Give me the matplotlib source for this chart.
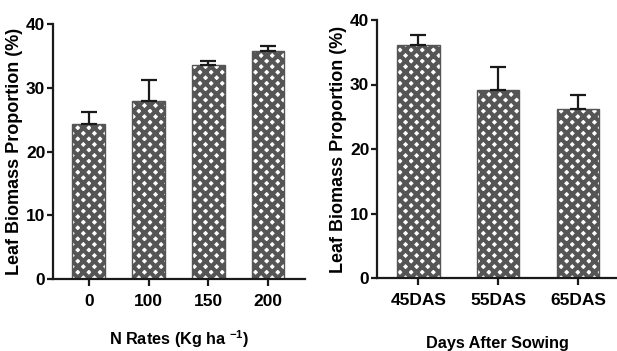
import matplotlib.pyplot as plt
import numpy as np

plt.rcParams['font.family'] = ['Liberation Sans', 'DejaVu Sans']
plt.rcParams['font.weight'] = 'bold'
plt.rcParams['mathtext.fontset'] = 'custom'
plt.rcParams['mathtext.rm'] = 'Liberation Sans:bold'
plt.rcParams['mathtext.bf'] = 'Liberation Sans:bold'
plt.rcParams['mathtext.default'] = 'bf'
plt.rcParams['hatch.linewidth'] = 3.0

# --- left panel: N rates ---
n_rates = ["0", "100", "150", "200"]
n_mean = [24.3, 28.0, 33.5, 35.8]
n_err = [1.9, 3.2, 0.7, 0.8]

# --- right panel: days after sowing ---
das = ["45DAS", "55DAS", "65DAS"]
das_mean = [36.2, 29.1, 26.2]
das_err = [1.5, 3.6, 2.2]

fig = plt.figure(figsize=(6.17, 3.51), dpi=100)
W, H = 617, 351
ax1 = fig.add_axes([53 / W, 1 - 279 / H, (305 - 53) / W, (279 - 24) / H])
ax2 = fig.add_axes([377 / W, 1 - 278 / H, (617 - 377) / W, (278 - 20) / H])


def draw(ax, labels, means, errs, width, xlim, xlabel, label_y):
    x = np.arange(len(labels))
    ax.bar(x, means, width=width, color='white', edgecolor='#555555',
           hatch='xxx', linewidth=1.0, zorder=2)
    ax.errorbar(x, means, yerr=[np.zeros(len(errs)), errs], fmt='none',
                ecolor='#1a1a1a', elinewidth=1.6, capsize=6, capthick=1.6,
                zorder=3)
    ax.set_xticks(x)
    ax.set_xticklabels(labels)
    ax.set_xlim(*xlim)
    ax.set_ylim(0, 40)
    ax.set_yticks([0, 10, 20, 30, 40])
    for s in ['top', 'right']:
        ax.spines[s].set_visible(False)
    for s in ['left', 'bottom']:
        ax.spines[s].set_linewidth(1.6)
        ax.spines[s].set_color('#1a1a1a')
    ax.tick_params(axis='both', direction='out', length=5, width=1.6,
                   labelsize=12.5, color='#1a1a1a')
    ax.tick_params(axis='x', pad=6)
    ax.tick_params(axis='y', length=4, pad=1.5)
    ax.set_ylabel("Leaf Biomass Proportion (%)", fontsize=13,
                  fontweight='bold', labelpad=2)
    ax.set_xlabel(xlabel, fontsize=11.7, fontweight='bold')
    ax.xaxis.set_label_coords(0.5, label_y)


draw(ax1, n_rates, n_mean, n_err, 0.55, (-0.6, 3.62),
     r"N Rates (Kg ha $^{-1}$)", -0.195)
draw(ax2, das, das_mean, das_err, 0.53, (-0.52, 2.49),
     "Days After Sowing", -0.225)

fig.savefig("out.png", dpi=100)
